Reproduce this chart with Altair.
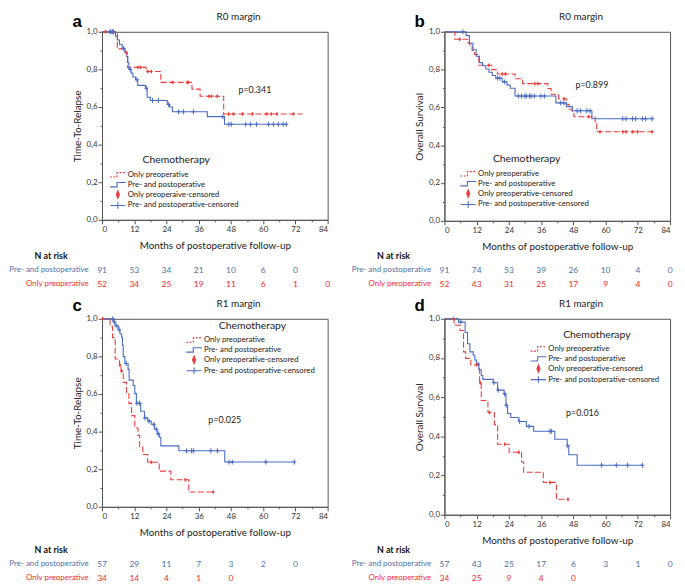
import altair as alt
import pandas as pd

RED = "#ee3d3d"
BLUE = "#4a6cc4"
RED_T = "#f52a2a"
BLUE_T = "#4d70a9"
FONT = "Lato"
W = 228

MONTHS = [0, 12, 24, 36, 48, 60, 72, 84]
ROWS = ["N at risk", "Pre- and postoperative", "Only preoperative"]

# ---------------- panel a : R0, time to relapse ----------------
a_red_t = [0, 5.7, 8.8, 9.5, 16.4, 21.9, 33.5, 36.5, 45.3, 74.6]
a_red_s = [1.0, 0.909, 0.887, 0.811, 0.789, 0.731, 0.695, 0.657, 0.563, 0.563]
a_red_c = [1.2, 2.9, 3.8, 9.2, 13.4, 14.4, 17.0, 18.3, 26.2, 31.7, 32.1, 39.8, 40.8,
           42.9, 47.2, 48.9, 52.3, 56.0, 61.2, 63.0, 65.1, 71.2]
a_blue_t = [0, 5.0, 5.7, 6.5, 7.5, 8.5, 9.2, 9.6, 10.0, 10.8, 11.5, 12.5, 13.3, 16.2,
            16.8, 18.0, 24.3, 25.1, 26.2, 39.2, 45.6, 69.0]
a_blue_s = [1.0, 0.978, 0.956, 0.934, 0.912, 0.89, 0.868, 0.835, 0.80, 0.78, 0.76, 0.745,
            0.715, 0.70, 0.652, 0.635, 0.614, 0.60, 0.575, 0.549, 0.508, 0.508]
a_blue_c = [3.2, 3.8, 4.3, 8.0, 10.5, 13.0, 16.5, 18.8, 21.0, 24.8, 28.5, 30.3, 34.0, 45.0,
            47.2, 48.1, 53.5, 55.3, 57.5, 62.0, 63.8, 65.6, 67.4, 68.6]
a_risk_blue = [91, 53, 34, 21, 10, 6, 0]
a_risk_red = [52, 34, 25, 19, 11, 6, 1, 0]

# ---------------- panel b : R0, overall survival ----------------
b_red_t = [0, 3.9, 8.8, 9.5, 10.3, 11.2, 12.8, 17.6, 19.7, 26.3, 29.1, 38.5, 39.7, 42.5,
           45.4, 46.4, 47.6, 48.2, 56.1, 56.7, 78.0]
b_red_s = [1.0, 0.961, 0.94, 0.922, 0.901, 0.88, 0.823, 0.80, 0.777, 0.752, 0.726, 0.70,
           0.67, 0.646, 0.616, 0.59, 0.573, 0.551, 0.514, 0.471, 0.471]
b_red_c = [5.7, 16.5, 21.5, 22.7, 33.6, 34.8, 44.5, 53.7, 57.9, 66.4, 67.6, 70.0, 71.9, 77.3]
b_blue_t = [0, 8.1, 9.3, 10.6, 11.8, 13.0, 14.2, 15.4, 16.6, 17.8, 19.1, 21.5, 23.3, 24.5,
            26.3, 41.5, 45.4, 47.6, 54.9, 78.0]
b_blue_s = [1.0, 0.98, 0.939, 0.905, 0.871, 0.837, 0.82, 0.803, 0.786, 0.769, 0.755, 0.735,
            0.718, 0.701, 0.66, 0.624, 0.604, 0.582, 0.54, 0.54]
b_blue_c = [6.9, 19.8, 20.6, 22.4, 27.5, 28.7, 29.9, 30.5, 31.7, 32.3, 33.5, 35.9, 37.2,
            43.3, 44.5, 49.4, 50.6, 53.0, 54.2, 66.4, 67.6, 70.0, 71.2, 73.7, 74.9, 77.3]
b_risk_blue = [91, 74, 53, 39, 26, 10, 4, 0]
b_risk_red = [52, 43, 31, 25, 17, 9, 4, 0]

# ---------------- panel c : R1, time to relapse ----------------
c_red_t = [0, 3.0, 3.9, 4.9, 6.5, 7.1, 7.9, 9.1, 10.0, 11.0, 12.2, 13.4, 14.0, 15.2, 17.0,
           21.3, 25.6, 32.3, 41.4]
c_red_s = [1.0, 0.96, 0.90, 0.786, 0.753, 0.722, 0.662, 0.607, 0.55, 0.485, 0.419, 0.379,
           0.319, 0.278, 0.237, 0.19, 0.144, 0.079, 0.079]
c_red_c = [0.3, 6.7, 7.3, 18.3, 31.0, 41.4]
c_blue_t = [0, 4.3, 4.9, 6.1, 6.7, 7.3, 7.6, 7.9, 8.5, 9.7, 10.1, 11.6, 12.2, 12.8, 14.4,
            15.8, 17.0, 18.3, 19.5, 20.5, 21.3, 21.9, 28.6, 45.7, 71.8]
c_blue_s = [1.0, 0.983, 0.962, 0.942, 0.919, 0.902, 0.859, 0.799, 0.762, 0.731, 0.674, 0.645,
            0.602, 0.551, 0.508, 0.473, 0.456, 0.439, 0.413, 0.388, 0.37, 0.324, 0.298,
            0.238, 0.238]
c_blue_c = [4.0, 4.6, 5.5, 6.4, 9.0, 13.0, 14.0, 16.0, 17.5, 19.3, 20.2, 21.0, 31.5, 33.3,
            34.0, 40.5, 43.0, 47.3, 48.5, 61.0, 71.6]
c_risk_blue = [57, 29, 11, 7, 3, 2, 0]
c_risk_red = [34, 14, 4, 1, 0]

# ---------------- panel d : R1, overall survival ----------------
d_red_t = [0, 3.6, 5.8, 7.1, 7.9, 9.8, 13.1, 13.7, 16.2, 18.6, 19.8, 24.1, 28.7, 29.5,
           36.8, 41.7, 46.0]
d_red_s = [1.0, 0.967, 0.94, 0.831, 0.798, 0.765, 0.674, 0.583, 0.522, 0.46, 0.36, 0.319,
           0.269, 0.217, 0.165, 0.079, 0.079]
d_red_c = [3.4, 12.0, 13.3, 16.8, 22.5, 27.7, 39.3, 46.0]
d_blue_t = [0, 5.2, 7.7, 8.6, 9.5, 10.7, 11.3, 11.9, 12.8, 13.7, 14.3, 18.2, 19.8, 22.2,
            22.9, 23.5, 24.7, 27.7, 30.5, 33.2, 41.1, 45.7, 46.3, 49.4, 73.9]
d_blue_s = [1.0, 0.983, 0.93, 0.873, 0.831, 0.815, 0.79, 0.774, 0.74, 0.711, 0.691, 0.674,
            0.636, 0.617, 0.559, 0.517, 0.496, 0.476, 0.451, 0.426, 0.385, 0.352, 0.306,
            0.253, 0.253]
d_blue_c = [6.1, 18.4, 20.0, 22.4, 23.0, 28.0, 31.5, 39.3, 39.9, 45.9, 58.5, 64.0, 68.2, 73.7]
d_risk_blue = [57, 43, 25, 17, 6, 3, 1, 0]
d_risk_red = [34, 25, 9, 4, 0]

LEG_STD = ["Only preoperative", "Pre- and postoperative",
           "Only preoperative-censored", "Pre- and postoperative-censored"]
LEG_A = ["Only preoperative", "Pre- and postoperative",
         "Only preoperaive-censored", "Pre- and postoperative-censored"]

STEP = "M-2,0.55H-0.2V-0.55H2"
DIAMOND = "M0,-0.95L0.38,0L0,0.95L-0.38,0Z"
CROSS = "M-1.9,0H1.9M0,-0.8V0.8"
CENS_RED = "M0,-1L0.6,0L0,1L-0.6,0Z"
CENS_BLUE = "M0,-1V1M-0.8,0H0.8"


def step_df(t, s):
    return pd.DataFrame({"t": t, "s": s})


def censor_df(ct, t, s):
    vals = []
    for c in ct:
        v = s[0]
        for ti, si in zip(t, s):
            if ti <= c:
                v = si
        vals.append(v)
    return pd.DataFrame({"t": ct, "s": vals})


def legend_layer(labels, lx, ly):
    leg = alt.Legend(
        title="Chemotherapy", orient="none", legendX=lx, legendY=ly,
        titleAnchor="middle", titleFont=FONT, titleFontSize=10.5,
        titleFontWeight="normal", titleColor="#222", titlePadding=4,
        labelFont=FONT, labelFontSize=7.8, labelColor="#222", labelOffset=5,
        symbolSize=64, symbolStrokeWidth=1.1, rowPadding=-1, padding=0,
    )
    return alt.Chart(pd.DataFrame({"series": labels})).transform_filter("false").mark_point(
        filled=True, opacity=1, strokeWidth=1.1
    ).encode(
        shape=alt.Shape("series:N", scale=alt.Scale(domain=labels, range=[STEP, STEP, DIAMOND, CROSS]), legend=leg),
        stroke=alt.Stroke("series:N", scale=alt.Scale(domain=labels, range=[RED, BLUE, RED, BLUE]), legend=leg),
        fill=alt.Fill("series:N", scale=alt.Scale(domain=labels, range=["transparent", "transparent", RED, "transparent"]), legend=leg),
        strokeDash=alt.StrokeDash("series:N", scale=alt.Scale(domain=labels, range=[[2, 1.5], [1, 0], [1, 0], [1, 0]]), legend=leg),
    )


def km_chart(letter, title, ytitle, H, red_t, red_s, red_c, blue_t, blue_s, blue_c,
             ptxt, px, py, leg_labels, lx, ly, letter_y):
    xenc = alt.X("t:Q", scale=alt.Scale(domain=[0, 84], nice=False),
                 axis=alt.Axis(values=list(range(0, 85, 6)), labelExpr="datum.value % 12 === 0 ? datum.label : ''",
                               tickSize={"condition": {"test": "datum.value % 12 === 0", "value": 4}, "value": 2},
                               grid=False, labelFont=FONT, labelFontSize=8, labelColor="#333", labelPadding=2,
                               domainColor="#555", tickColor="#555", titleFont=FONT, titleFontSize=10,
                               titleFontWeight="normal", titleColor="#222", titlePadding=7),
                 title="Months of postoperative follow-up")
    yenc = alt.Y("s:Q", scale=alt.Scale(domain=[0, 1], nice=False),
                 axis=alt.Axis(values=[0, 0.1, 0.2, 0.3, 0.4, 0.5, 0.6, 0.7, 0.8, 0.9, 1.0],
                               labelExpr="round(datum.value*10) % 2 === 0 ? replace(format(datum.value, '.1f'), '.', ',') : ''",
                               tickSize={"condition": {"test": "round(datum.value*10) % 2 === 0", "value": 4}, "value": 2},
                               grid=False, labelFont=FONT, labelFontSize=8, labelColor="#333", labelPadding=1,
                               domainColor="#555", tickColor="#555", titleFont=FONT, titleFontSize=10,
                               titleFontWeight="normal", titleColor="#222", titlePadding=4),
                 title=ytitle)
    red_line = alt.Chart(step_df(red_t, red_s)).mark_line(
        interpolate="step-after", color=RED, strokeDash=[6, 2.5], strokeWidth=1.1).encode(x=xenc, y=yenc)
    blue_line = alt.Chart(step_df(blue_t, blue_s)).mark_line(
        interpolate="step-after", color=BLUE, strokeWidth=1.1).encode(x=xenc, y=yenc)
    red_cm = alt.Chart(censor_df(red_c, red_t, red_s)).mark_point(
        shape=CENS_RED, filled=True, color=RED, size=20, opacity=1).encode(x=xenc, y=yenc)
    blue_cm = alt.Chart(censor_df(blue_c, blue_t, blue_s)).mark_point(
        shape=CENS_BLUE, filled=False, color=BLUE, size=26, strokeWidth=1, opacity=1).encode(x=xenc, y=yenc)
    ptext = alt.Chart(pd.DataFrame({"t": [px], "s": [py], "label": [ptxt]})).mark_text(
        font=FONT, fontSize=9, color="#222").encode(x=xenc, y=yenc, text="label:N")
    let = alt.Chart(pd.DataFrame({"L": [letter]})).mark_text(
        font="Liberation Sans", fontWeight="bold", fontSize=17, color="#000",
        align="center", baseline="alphabetic").encode(x=alt.value(-25), y=alt.value(letter_y), text="L:N")
    ttl = alt.Chart(pd.DataFrame({"T": [title]})).mark_text(
        font=FONT, fontSize=10, color="#222", align="center", baseline="alphabetic"
    ).encode(x=alt.value(W / 2 + 24), y=alt.value(-12), text="T:N")
    leg = legend_layer(leg_labels, lx, ly)
    return alt.layer(red_line, blue_line, red_cm, blue_cm, ptext, let, ttl, leg).properties(
        width=W, height=H,
        view=alt.ViewBackground(stroke="#555"),
    )


def risk_chart(blue, red):
    rows = []
    for m, n in zip(MONTHS, blue):
        rows.append({"m": m, "row": ROWS[1], "n": n})
    for m, n in zip(MONTHS, red):
        rows.append({"m": m, "row": ROWS[2], "n": n})
    df = pd.DataFrame(rows)
    return alt.Chart(df).mark_text(font=FONT, fontSize=8.5).encode(
        x=alt.X("m:Q", scale=alt.Scale(domain=[0, 84], nice=False), axis=None),
        y=alt.Y("row:N", scale=alt.Scale(domain=ROWS),
                axis=alt.Axis(title=None, ticks=False, tickSize=0, domain=False, grid=False,
                              labelFont=FONT,
                              labelFontSize={"condition": {"test": "datum.value === 'N at risk'", "value": 9}, "value": 8},
                              labelFontWeight={"condition": {"test": "datum.value === 'N at risk'", "value": "bold"}, "value": "normal"},
                              labelAlign={"condition": {"test": "datum.value === 'N at risk'", "value": "center"}, "value": "right"},
                              labelPadding={"condition": {"test": "datum.value === 'N at risk'", "value": 52}, "value": 14},
                              labelColor={"condition": [
                                  {"test": "datum.value === 'N at risk'", "value": "#111"},
                                  {"test": "datum.value === 'Only preoperative'", "value": RED_T}],
                                  "value": BLUE_T})),
        text=alt.Text("n:Q"),
        color=alt.Color("row:N", scale=alt.Scale(domain=ROWS[1:], range=[BLUE_T, RED_T]), legend=None),
    ).properties(width=W, height=43, view=alt.ViewBackground(stroke="transparent"))


km_a = km_chart("a", "R0 margin", "Time-To-Relapse", 190, a_red_t, a_red_s, a_red_c,
                a_blue_t, a_blue_s, a_blue_c, "p=0.341", 56.9, 0.691, LEG_A, 11, 125, -5)
km_b = km_chart("b", "R0 margin", "Overall Survival", 191, b_red_t, b_red_s, b_red_c,
                b_blue_t, b_blue_s, b_blue_c, "p=0.899", 54.9, 0.718, LEG_STD, 19, 124, -5)
km_c = km_chart("c", "R1 margin", "Time-To-Relapse", 190, c_red_t, c_red_s, c_red_c,
                c_blue_t, c_blue_s, c_blue_c, "p=0.025", 45.7, 0.46, LEG_STD, 88, 2, -8)
km_d = km_chart("d", "R1 margin", "Overall Survival", 198, d_red_t, d_red_s, d_red_c,
                d_blue_t, d_blue_s, d_blue_c, "p=0.016", 51.4, 0.52, LEG_STD, 90, 11, -8)

chart = alt.concat(
    km_a, km_b,
    risk_chart(a_risk_blue, a_risk_red), risk_chart(b_risk_blue, b_risk_red),
    km_c, km_d,
    risk_chart(c_risk_blue, c_risk_red), risk_chart(d_risk_blue, d_risk_red),
    columns=2, spacing={"row": 28, "column": 118}, bounds="flush", align="each",
).resolve_scale(
    shape="independent", stroke="independent", fill="independent", strokeDash="independent"
).properties(
    padding={"left": 0, "top": 0, "right": 4, "bottom": 2}
).configure(font=FONT, background="white")

chart.save("out.html", embed_options={"renderer": "svg", "actions": False})
